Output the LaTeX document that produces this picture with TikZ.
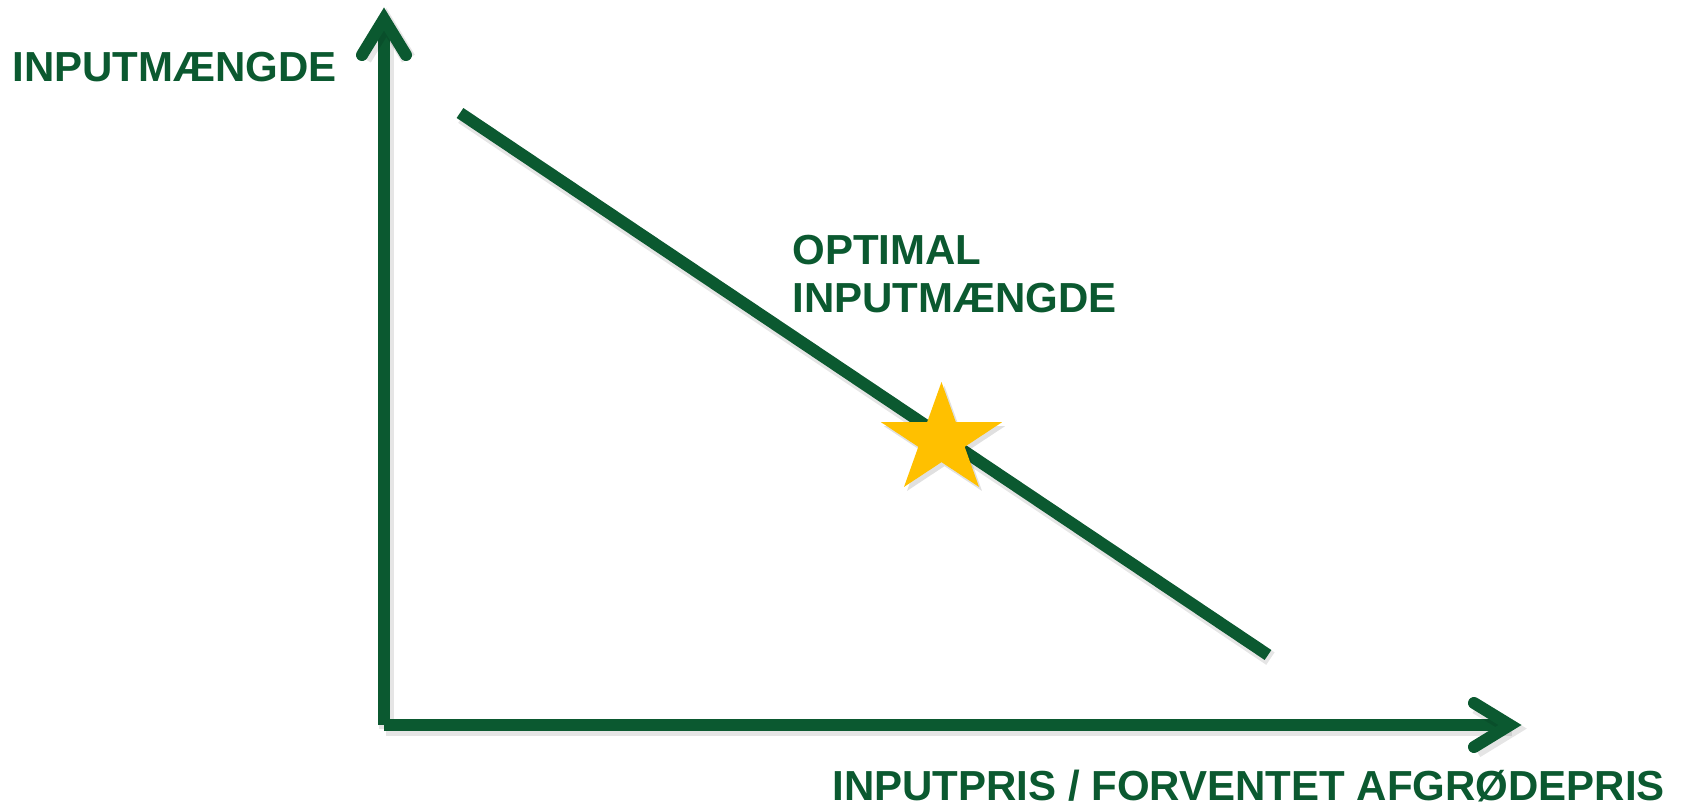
\documentclass[tikz,border=0pt]{standalone}
\usepackage{fontspec}
\setmainfont{Liberation Sans}
\usetikzlibrary{shapes.geometric}
\definecolor{axisgreen}{RGB}{11,89,48}
\definecolor{stargold}{RGB}{255,192,0}

\begin{document}
\begin{tikzpicture}[x=0.5pt,y=-0.5pt,
  every node/.style={font=\fontsize{21}{24}\selectfont\bfseries, text=axisgreen, inner sep=0pt},
  softshadow/.style={preaction={draw=black, draw opacity=0.10, line width=7.5pt, transform canvas={shift={(1.2pt,-1.8pt)}}}},
  axis/.style={draw=axisgreen, line width=6pt, softshadow},
  barb/.style={axis, line cap=round, line join=miter}]
\useasboundingbox (0,0) rectangle (1687,807);
\coordinate (origin) at (384,725);
\coordinate (ytip) at (384,19);
\coordinate (xtip) at (1510,725);
\coordinate (demandstart) at (460,113);
\coordinate (demandend) at (1268,655);
\draw[axis] (origin)--(ytip);
\draw[axis] (origin)--(xtip);
\draw[barb] ([shift={(-22,36)}]ytip)--(ytip)--([shift={(22,36)}]ytip);
\draw[barb] ([shift={(-36,-22)}]xtip)--(xtip)--([shift={(-36,22)}]xtip);
\draw[axis] (demandstart)--(demandend);
\node[star, star points=5, star point ratio=2.618, minimum size=58pt, xscale=1.1, transform shape,
  fill=stargold, preaction={fill=black, fill opacity=0.12, transform canvas={shift={(1.5pt,-2pt)}}}] (optimum) at (941.5,440) {};
\node[anchor=base west] (ylabel) at (12,82) {INPUTMÆNGDE};
\node[anchor=base west, align=left] (optlabel) at (792,313) {OPTIMAL\\INPUTMÆNGDE};
\node[anchor=base west] (xlabel) at (832,800) {INPUTPRIS / FORVENTET AFGRØDEPRIS};
\end{tikzpicture}
\end{document}
